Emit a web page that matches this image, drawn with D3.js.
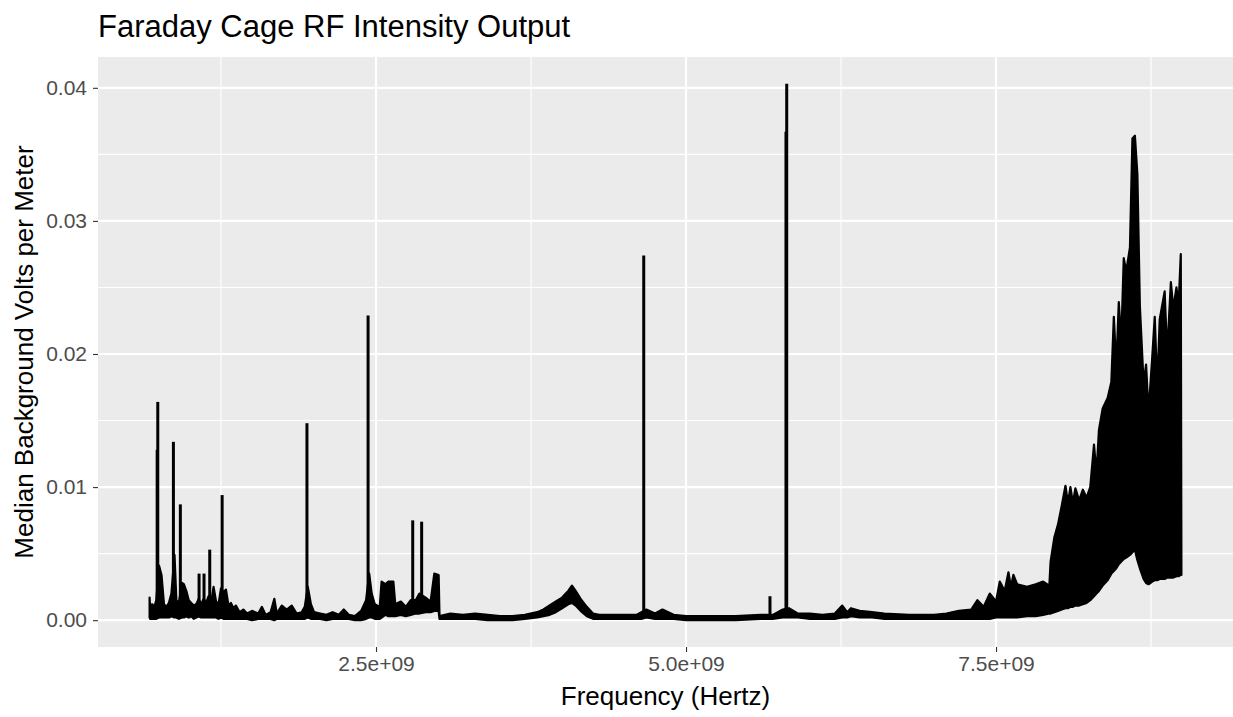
<!DOCTYPE html>
<html><head><meta charset="utf-8">
<script src="https://cdn.jsdelivr.net/npm/d3@7"></script>
<style>
body{margin:0;background:#fff}
text{font-family:"Liberation Sans", Arial, Helvetica, sans-serif}
</style>
</head><body><svg id="chart" width="1233" height="717"></svg>
<script>
const titleText = "Faraday Cage RF Intensity Output";
const xTitle = "Frequency (Hertz)";
const yTitle = "Median Background Volts per Meter";
const xTickValues = [2.5e9, 5.0e9, 7.5e9];
const xTickLabels = ["2.5e+09", "5.0e+09", "7.5e+09"];
const xMinorValues = [1.25e9, 3.75e9, 6.25e9, 8.75e9];
const yTickValues = [0, 0.01, 0.02, 0.03, 0.04];
const yTickLabels = ["0.00", "0.01", "0.02", "0.03", "0.04"];
const yMinorValues = [0.005, 0.015, 0.025, 0.035];

// noise band of the trace (GHz, lower and upper envelope in V/m)
const bandGHz = [
 0.674,0.680,0.695,0.712,0.728,0.750,0.770,0.790,0.810,0.830,0.850,0.875,0.890,0.910,0.935,0.950,0.970,0.990,
 1.010,1.030,1.050,1.070,1.090,1.110,1.130,1.150,1.170,1.190,1.210,1.230,1.250,1.270,1.290,1.310,1.330,1.350,1.370,
 1.400,1.430,1.460,1.500,1.550,1.580,1.610,1.650,1.680,1.700,1.740,1.780,1.820,1.860,1.900,1.925,1.950,1.975,
 2.000,2.050,2.100,2.150,2.200,2.240,2.280,2.330,2.380,2.420,2.445,2.465,2.490,2.530,2.545,2.575,2.600,2.640,2.655,
 2.700,2.740,2.780,2.820,2.850,2.900,2.940,2.970,3.005,3.012,3.100,3.200,3.300,3.400,3.500,3.600,3.700,3.800,3.850,
 3.900,3.950,4.000,4.050,4.080,4.110,4.150,4.200,4.250,4.300,4.400,4.500,4.600,4.640,4.680,4.750,4.810,4.900,5.000,
 5.200,5.400,5.600,5.700,5.780,5.830,5.900,6.000,6.100,6.200,6.260,6.300,6.330,6.400,6.500,6.600,6.800,7.000,7.100,
 7.200,7.300,7.350,7.400,7.450,7.500,7.530,7.570,7.600,7.620,7.640,7.670,7.750,7.820,7.880,7.930,7.940,7.970,8.000,
 8.030,8.060,8.080,8.100,8.120,8.140,8.170,8.200,8.230,8.260,8.290,8.310,8.330,8.360,8.400,8.430,8.450,8.470,8.490,
 8.510,8.530,8.550,8.580,8.600,8.620,8.640,8.660,8.690,8.710,8.730,8.760,8.780,8.800,8.820,8.860,8.880,8.910,8.930,
 8.955,8.972,8.990,8.995
];
const bandLow = [
 0.0002,0.0001,0.0001,0.0001,0.0001,0.0002,0.0002,0.0002,0.0002,0.0002,0.0003,0.0002,0.0002,0.0001,0.0002,0.0002,0.0003,0.0002,
 0.0003,0.0001,0.0002,0.0003,0.0002,0.0002,0.0002,0.0002,0.0002,0.0002,0.0002,0.0001,0.0002,0.0001,0.0001,0.0001,0.0001,0.0001,0.0001,
 0.0001,0.0001,0.0001,0.0000,0.0001,0.0001,0.0001,0.0001,0.0000,0.0001,0.0001,0.0001,0.0001,0.0001,0.0001,0.0001,0.0002,0.0001,
 0.0001,0.0001,0.0000,0.0001,0.0001,0.0001,0.0001,0.0000,0.0000,0.0001,0.0002,0.0002,0.0001,0.0001,0.0002,0.0004,0.0003,0.0003,0.0003,
 0.0004,0.0003,0.0004,0.0005,0.0005,0.0006,0.0006,0.0007,0.0007,0.0001,0.0001,0.0001,0.0001,0.0000,0.0000,0.0000,0.0001,0.0002,0.0003,
 0.0004,0.0006,0.0009,0.0012,0.0013,0.0011,0.0007,0.0003,0.0001,0.0001,0.0001,0.0001,0.0001,0.0001,0.0002,0.0001,0.0001,0.0001,0.0000,
 0.0000,0.0000,0.0001,0.0001,0.0002,0.0002,0.0002,0.0001,0.0001,0.0001,0.0002,0.0002,0.0003,0.0002,0.0002,0.0001,0.0001,0.0001,0.0001,
 0.0001,0.0001,0.0001,0.0001,0.0001,0.0002,0.0002,0.0002,0.0002,0.0002,0.0002,0.0002,0.0003,0.0003,0.0004,0.0005,0.0005,0.0006,0.0007,
 0.0008,0.0009,0.0009,0.0010,0.0010,0.0011,0.0011,0.0012,0.0013,0.0015,0.0018,0.0020,0.0022,0.0026,0.0030,0.0035,0.0037,0.0039,0.0042,
 0.0044,0.0046,0.0047,0.0049,0.0051,0.0053,0.0045,0.0039,0.0031,0.0028,0.0027,0.0029,0.0030,0.0030,0.0031,0.0031,0.0032,0.0032,0.0032,
 0.0033,0.0033,0.0034,0.0034
];
const bandHigh = [
 0.0017,0.0006,0.0012,0.0010,0.0015,0.0041,0.0034,0.0012,0.0010,0.0013,0.0020,0.0049,0.0015,0.0013,0.0028,0.0027,0.0022,0.0015,
 0.0013,0.0011,0.0012,0.0016,0.0012,0.0016,0.0013,0.0018,0.0013,0.0025,0.0014,0.0012,0.0024,0.0021,0.0023,0.0011,0.0013,0.0009,0.0011,
 0.0006,0.0008,0.0005,0.0007,0.0005,0.0010,0.0004,0.0006,0.0016,0.0005,0.0011,0.0008,0.0011,0.0005,0.0006,0.0010,0.0025,0.0012,
 0.0006,0.0005,0.0004,0.0006,0.0004,0.0008,0.0004,0.0003,0.0007,0.0015,0.0035,0.0020,0.0012,0.0010,0.0029,0.0027,0.0029,0.0029,0.0012,
 0.0014,0.0010,0.0015,0.0015,0.0020,0.0017,0.0014,0.0035,0.0034,0.0003,0.0005,0.0004,0.0005,0.0004,0.0003,0.0003,0.0004,0.0006,0.0008,
 0.0011,0.0014,0.0017,0.0022,0.0026,0.0022,0.0016,0.0010,0.0005,0.0004,0.0004,0.0004,0.0004,0.0006,0.0008,0.0005,0.0008,0.0004,0.0003,
 0.0003,0.0003,0.0004,0.0004,0.0008,0.0009,0.0005,0.0005,0.0004,0.0005,0.0011,0.0006,0.0009,0.0007,0.0006,0.0005,0.0004,0.0004,0.0005,
 0.0007,0.0008,0.0015,0.0010,0.0020,0.0014,0.0029,0.0022,0.0036,0.0025,0.0034,0.0027,0.0025,0.0027,0.0029,0.0026,0.0044,0.0062,0.0072,
 0.0086,0.0101,0.0088,0.0100,0.0088,0.0099,0.0090,0.0098,0.0092,0.0100,0.0132,0.0110,0.0143,0.0159,0.0167,0.0179,0.0228,0.0190,0.0239,
 0.0210,0.0272,0.0262,0.0280,0.0362,0.0364,0.0335,0.0236,0.0178,0.0192,0.0156,0.0198,0.0228,0.0175,0.0226,0.0247,0.0200,0.0254,0.0234,
 0.0250,0.0236,0.0275,0.0034
];

// narrow single-frequency spikes (GHz, V/m)
const spikeGHz   = [0.735, 0.740, 0.866, 0.922, 1.073, 1.113, 1.159, 1.259, 1.943, 2.436, 2.796, 2.868, 4.659, 5.677, 5.806, 5.812];
const spikeVolts = [0.0128, 0.0164, 0.0134, 0.0087, 0.0035, 0.0035, 0.0053, 0.0094, 0.0148, 0.0229, 0.0075, 0.0074, 0.0274, 0.0018, 0.0367, 0.0403];

const svg = d3.select("#chart");
const W = 1233, H = 717;
const margin = {left: 98, right: 0, top: 57, bottom: 70};
const pw = W - margin.left - margin.right, ph = H - margin.top - margin.bottom;

const hz = d => d * 1e9;
const xExt = d3.extent(bandGHz).map(hz);
const xPad = (xExt[1] - xExt[0]) * 0.05;
const yMax = d3.max([d3.max(bandHigh), d3.max(spikeVolts)]);
const yPad = yMax * 0.05;
const x = d3.scaleLinear().domain([xExt[0] - xPad, xExt[1] + xPad]).range([margin.left, margin.left + pw]);
const y = d3.scaleLinear().domain([-yPad, yMax + yPad]).range([margin.top + ph, margin.top]);

// panel
svg.append("rect").attr("x", margin.left).attr("y", margin.top).attr("width", pw).attr("height", ph).attr("fill", "#EBEBEB");
const grid = svg.append("g");
grid.selectAll(".ymin").data(yMinorValues).join("line")
  .attr("x1", margin.left).attr("x2", margin.left + pw).attr("y1", d => y(d)).attr("y2", d => y(d))
  .attr("stroke", "#fff").attr("stroke-width", 1.1);
grid.selectAll(".xmin").data(xMinorValues).join("line")
  .attr("y1", margin.top).attr("y2", margin.top + ph).attr("x1", d => x(d)).attr("x2", d => x(d))
  .attr("stroke", "#fff").attr("stroke-width", 1.1);
grid.selectAll(".ymaj").data(yTickValues).join("line")
  .attr("x1", margin.left).attr("x2", margin.left + pw).attr("y1", d => y(d)).attr("y2", d => y(d))
  .attr("stroke", "#fff").attr("stroke-width", 2.2);
grid.selectAll(".xmaj").data(xTickValues).join("line")
  .attr("y1", margin.top).attr("y2", margin.top + ph).attr("x1", d => x(d)).attr("x2", d => x(d))
  .attr("stroke", "#fff").attr("stroke-width", 2.2);

// data
const rows = bandGHz.map((f, i) => ({f: hz(f), lo: bandLow[i], hi: bandHigh[i]}));
const area = d3.area().x(d => x(d.f)).y0(d => y(d.lo)).y1(d => y(d.hi));
const clip = svg.append("clipPath").attr("id", "pclip").append("rect")
  .attr("x", margin.left).attr("y", margin.top).attr("width", pw).attr("height", ph);
const plot = svg.append("g").attr("clip-path", "url(#pclip)");
plot.append("path").datum(rows).attr("d", area)
  .attr("fill", "#000").attr("stroke", "#000").attr("stroke-width", 2.2).attr("stroke-linejoin", "round");

const lowAt = d3.scaleLinear().domain(bandGHz.map(hz)).range(bandLow);
const spikes = spikeGHz.map((f, i) => ({f: hz(f), v: spikeVolts[i]}));
plot.selectAll(".spike").data(spikes).join("line")
  .attr("x1", d => x(d.f)).attr("x2", d => x(d.f))
  .attr("y1", d => y(lowAt(d.f))).attr("y2", d => y(d.v))
  .attr("stroke", "#000").attr("stroke-width", 3).attr("stroke-linecap", "butt");

// axes
const xAxis = d3.axisBottom(x).tickValues(xTickValues).tickFormat((d, i) => xTickLabels[i]).tickSize(5).tickPadding(4);
const yAxis = d3.axisLeft(y).tickValues(yTickValues).tickFormat((d, i) => yTickLabels[i]).tickSize(5).tickPadding(6);
const gx = svg.append("g").attr("transform", `translate(0,${margin.top + ph})`).call(xAxis);
const gy = svg.append("g").attr("transform", `translate(${margin.left},0)`).call(yAxis);
[gx, gy].forEach(g => {
  g.select(".domain").remove();
  g.selectAll(".tick line").attr("stroke", "#333").attr("stroke-width", 1.1);
  g.selectAll(".tick text").attr("fill", "#4D4D4D").style("font-size", "21px").style("font-family", '"Liberation Sans", Arial, sans-serif');
});

// titles
svg.append("text").attr("x", margin.left).attr("y", 37).text(titleText)
  .style("font-size", "31px").attr("fill", "#000");
svg.append("text").attr("x", margin.left + pw / 2).attr("y", 705).attr("text-anchor", "middle").text(xTitle)
  .style("font-size", "26px").attr("fill", "#000");
svg.append("text").attr("transform", `translate(33,${margin.top + ph / 2}) rotate(-90)`).attr("text-anchor", "middle").text(yTitle)
  .style("font-size", "26px").attr("fill", "#000");
</script>
</body></html>
